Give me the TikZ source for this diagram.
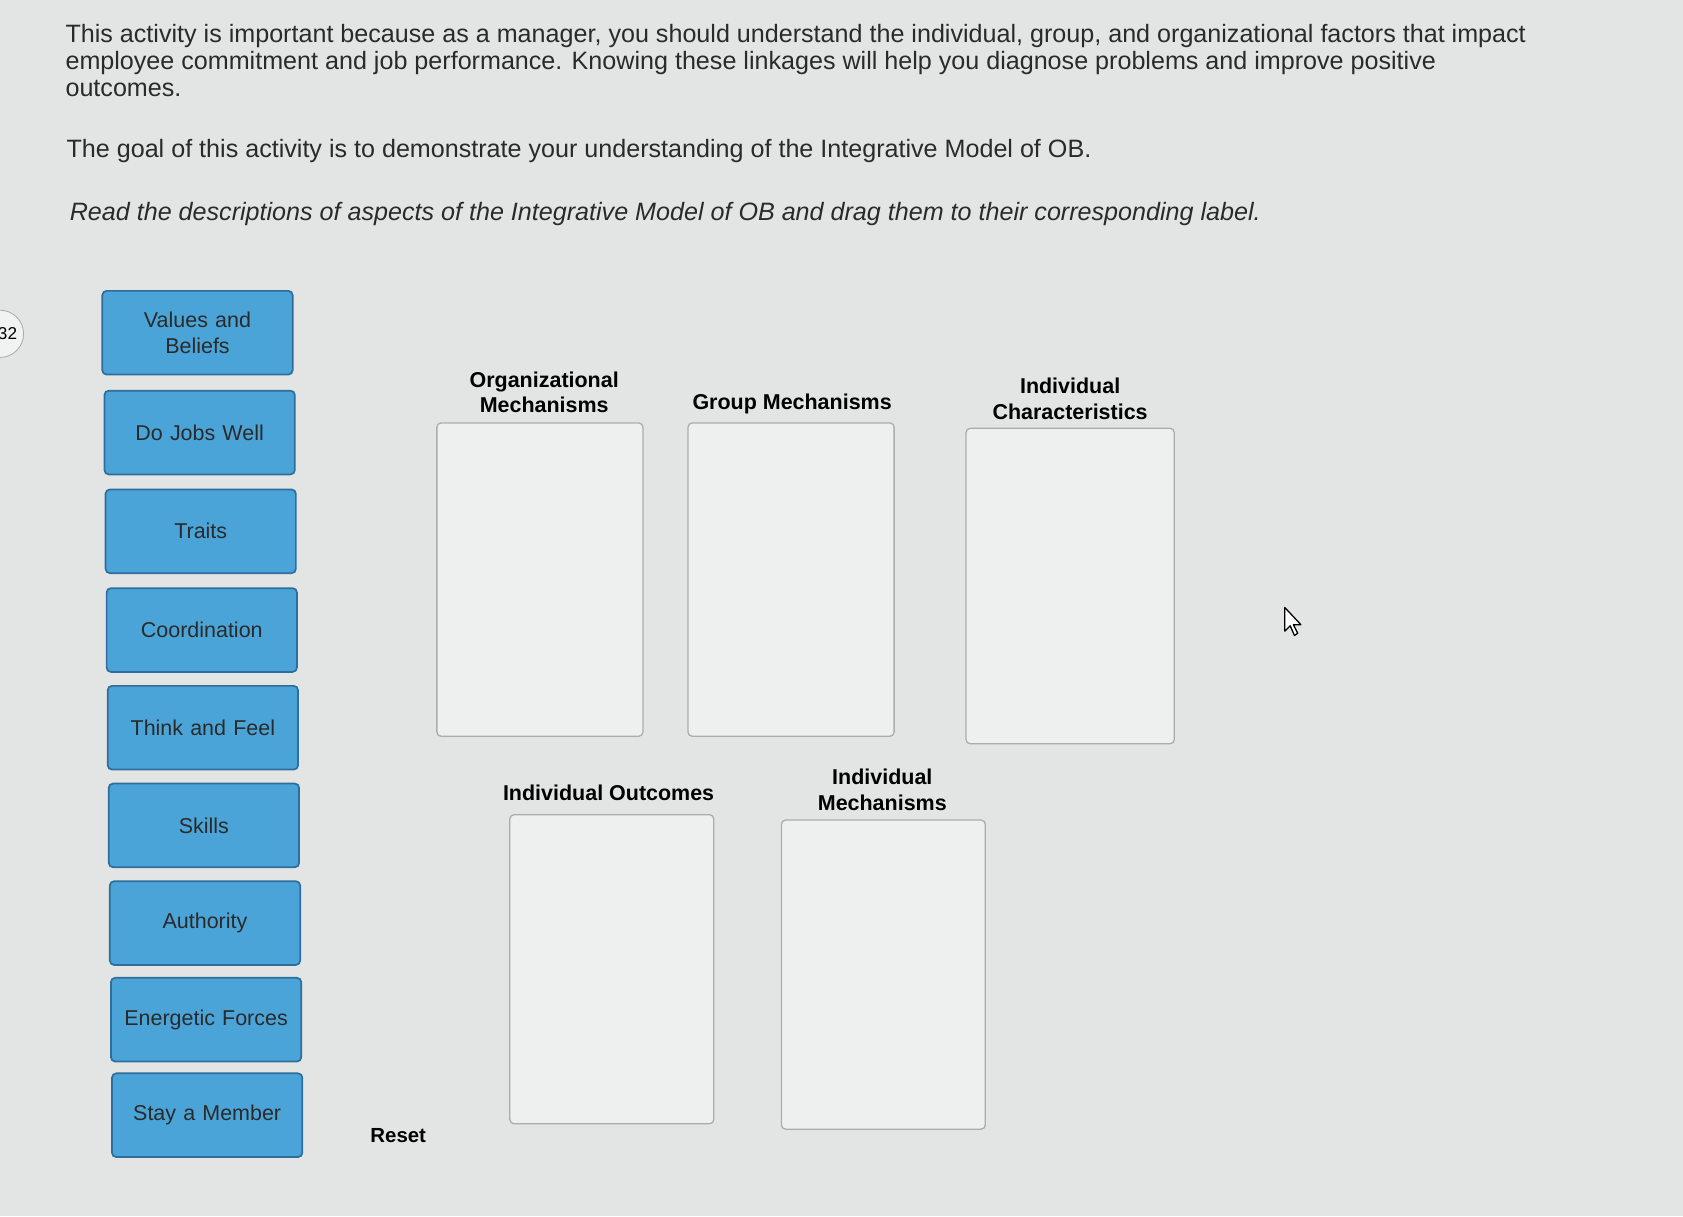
\documentclass[tikz,border=0pt]{standalone}
\usepackage{fontspec}
\setmainfont{Liberation Sans}
\definecolor{bg}{HTML}{E3E5E5}
\definecolor{tile}{HTML}{4BA4D8}
\definecolor{tileb}{HTML}{2F6E9C}
\definecolor{dropb}{HTML}{A9ADAE}
\definecolor{txt}{HTML}{2A2A2A}
\begin{document}
\begin{tikzpicture}[x=0.5pt,y=-0.5pt,
 tilebox/.style={draw=tileb,fill=tile,rounded corners=2pt,line width=0.8pt,text width=82pt,minimum width=88pt,align=center,font=\fontsize{10}{12}\selectfont,text=txt},
 dropbox/.style={draw=dropb,fill=bg!60!white,rounded corners=2pt,line width=0.6pt},
 lab/.style={font=\bfseries\fontsize{10}{12}\selectfont,align=center,text=black}]
\fill[bg] (0,0) rectangle (1568,1133);
\useasboundingbox (0,0) rectangle (1568,1133);
\node[draw=dropb,fill=bg!50!white,circle,minimum size=22pt] (pg) at (0,311) {};
\node[font=\fontsize{8}{9}\selectfont] (pgt) at (7,311) {32};
\node[anchor=north west,align=left,font=\fontsize{11.7}{12.5}\selectfont,text=txt] (p1) at (54,16) {This activity is important because as a manager, you should understand the individual, group, and organizational factors that impact\\employee commitment and job performance. Knowing these linkages will help you diagnose problems and improve positive\\outcomes.};
\node[anchor=west,font=\fontsize{11.7}{12.5}\selectfont,text=txt] (p2) at (55,141) {The goal of this activity is to demonstrate your understanding of the Integrative Model of OB.};
\node[anchor=west,font=\itshape\fontsize{11.7}{12.5}\selectfont,text=txt] (p3) at (58,199) {Read the descriptions of aspects of the Integrative Model of OB and drag them to their corresponding label.};
\foreach \n/\t/\x/\y in {a/{Values and\\Beliefs}/184/310, b/Do Jobs Well/186/403, c/Traits/187/495, d/Coordination/188/587, e/Think and Feel/189/678, f/Skills/190/769, g/Authority/191/860, h/Energetic Forces/192/950, i/Stay a Member/193/1039}
 \node[tilebox,minimum height=39pt] (\n) at (\x,\y) {\t};
\node[lab,font=\bfseries\fontsize{9.5}{11}\selectfont] (reset) at (371,1058) {Reset};
\node[dropbox,minimum width=96pt,minimum height=146pt] (om) at (503,540) {};
\node[lab,anchor=south] (oml) at (507,392) {Organizational\\Mechanisms};
\node[dropbox,minimum width=96pt,minimum height=146pt] (gm) at (737,540) {};
\node[lab] (gml) at (738,376) {Group Mechanisms};
\node[dropbox,minimum width=97pt,minimum height=147pt] (ic) at (997,546) {};
\node[lab,anchor=south] (icl) at (997,398) {Individual\\Characteristics};
\node[dropbox,minimum width=95pt,minimum height=144pt] (io) at (570,903) {};
\node[lab] (iol) at (567,739) {Individual Outcomes};
\node[dropbox,minimum width=95pt,minimum height=144pt] (im) at (823,908) {};
\node[lab,anchor=south] (iml) at (822,762) {Individual\\Mechanisms};
\draw[fill=white,line width=0.6pt,line join=round] (1197,566) -- (1197,588) -- (1202,583) -- (1206,592) -- (1209,590) -- (1205,582) -- (1212,582) -- cycle;
\end{tikzpicture}
\end{document}
